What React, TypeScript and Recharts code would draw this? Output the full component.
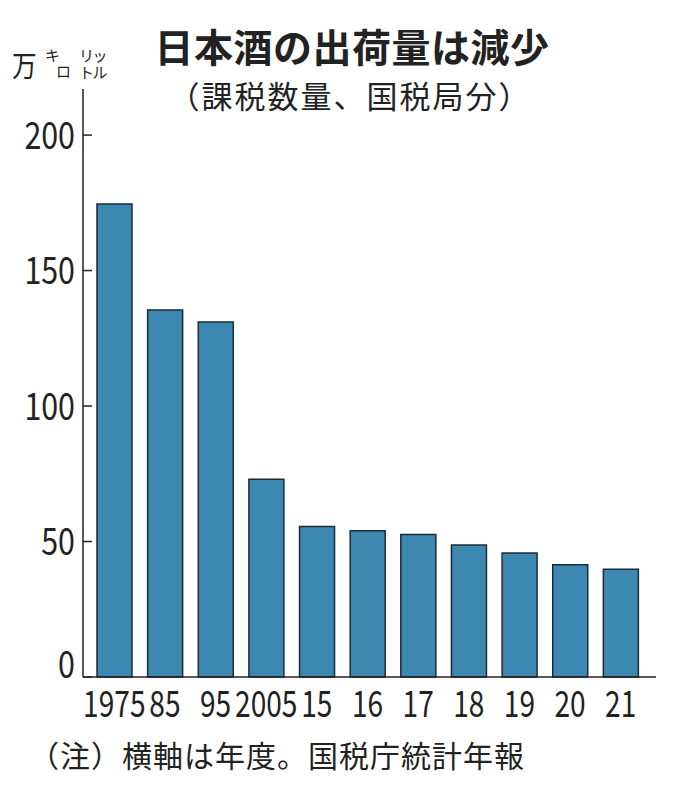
import { BarChart, Bar, XAxis, YAxis } from 'recharts';

// 年度
const years = ['1975', '85', '95', '2005', '15', '16', '17', '18', '19', '20', '21'];
// 課税数量（万キロリットル）
const volumes = [174.6, 135.4, 131, 73, 55.5, 54, 52.6, 48.7, 45.8, 41.4, 39.8];
const yTicks = [0, 50, 100, 150, 200];

const data = years.map((year, i) => ({ year, volume: volumes[i] }));

const FONT = '"Noto Sans CJK JP", "Noto Sans", sans-serif';
const INK = '#222';

const YTick = (props: any) => {
    const x = Number(props.x);
    const y = Number(props.y);
    const isZero = props.payload.value === 0;
    return (
        <g transform={`translate(${x},${isZero ? y - 13 : y})`}>
            <text transform="scale(0.8,1)" textAnchor="end" dy="0.36em" fontSize={38} fill={INK} stroke="none" fontFamily={FONT}>
                {props.payload.value}
            </text>
        </g>
    );
};

const XTick = (props: any) => {
    const x = Number(props.x);
    const y = Number(props.y);
    return (
        <g transform={`translate(${x},${y + 27})`}>
            <text transform="scale(0.76,1)" textAnchor="middle" dy="0.36em" fontSize={37} fill={INK} stroke="none" fontFamily={FONT}>
                {props.payload.value}
            </text>
        </g>
    );
};

export default function App() {
    return (
        <div style={{ position: 'absolute', left: 0, top: 0, width: 678, height: 788, background: '#fff', fontFamily: FONT, color: INK }}>
            {/* title */}
            <div style={{ position: 'absolute', left: 0, width: 704, top: 26, textAlign: 'center', fontSize: 39, fontWeight: 700, lineHeight: 1, letterSpacing: 0.5, whiteSpace: 'nowrap' }}>
                日本酒の出荷量は減少
            </div>
            <div style={{ position: 'absolute', left: 0, width: 700, top: 79, textAlign: 'center', fontSize: 31, lineHeight: 1, letterSpacing: 2, whiteSpace: 'nowrap' }}>
                （課税数量、国税局分）
            </div>

            {/* unit */}
            <div style={{ position: 'absolute', left: 12, top: 50, fontSize: 29, lineHeight: 1, transform: 'scaleX(0.85)', transformOrigin: 'left' }}>万</div>
            <div style={{ position: 'absolute', left: 45, top: 47, fontSize: 15, lineHeight: 1 }}>キ</div>
            <div style={{ position: 'absolute', left: 56, top: 63, fontSize: 15, lineHeight: 1 }}>ロ</div>
            <div style={{ position: 'absolute', left: 79, top: 46, fontSize: 15, lineHeight: '17px', letterSpacing: -1.5, whiteSpace: 'nowrap' }}>
                リッ<br />トル
            </div>

            <div style={{ position: 'absolute', left: 0, top: 0 }}>
                <BarChart width={678} height={788} data={data} margin={{ top: 89, right: 22, bottom: 0, left: 0 }}>
                    <YAxis
                        width={83}
                        domain={[0, 217]}
                        ticks={yTicks}
                        interval={0}
                        tickSize={-9}
                        tickMargin={17}
                        tickLine={{ stroke: INK, strokeWidth: 1.5 }}
                        axisLine={{ stroke: INK, strokeWidth: 1.5 }}
                        tick={<YTick />}
                    />
                    <XAxis
                        dataKey="year"
                        height={111}
                        interval={0}
                        tickSize={0}
                        tickMargin={0}
                        tickLine={false}
                        padding={{ left: 6, right: 10 }}
                        axisLine={{ stroke: INK, strokeWidth: 1.5 }}
                        tick={<XTick />}
                    />
                    <Bar dataKey="volume" barSize={35} fill="#3c88b1" stroke="#1d2b33" strokeWidth={1.5} isAnimationActive={false} />
                </BarChart>
            </div>

            {/* note */}
            <div style={{ position: 'absolute', left: 29, top: 739, fontSize: 30, lineHeight: 1, letterSpacing: 1, whiteSpace: 'nowrap' }}>
                （注）横軸は年度。国税庁統計年報
            </div>
        </div>
    );
}
